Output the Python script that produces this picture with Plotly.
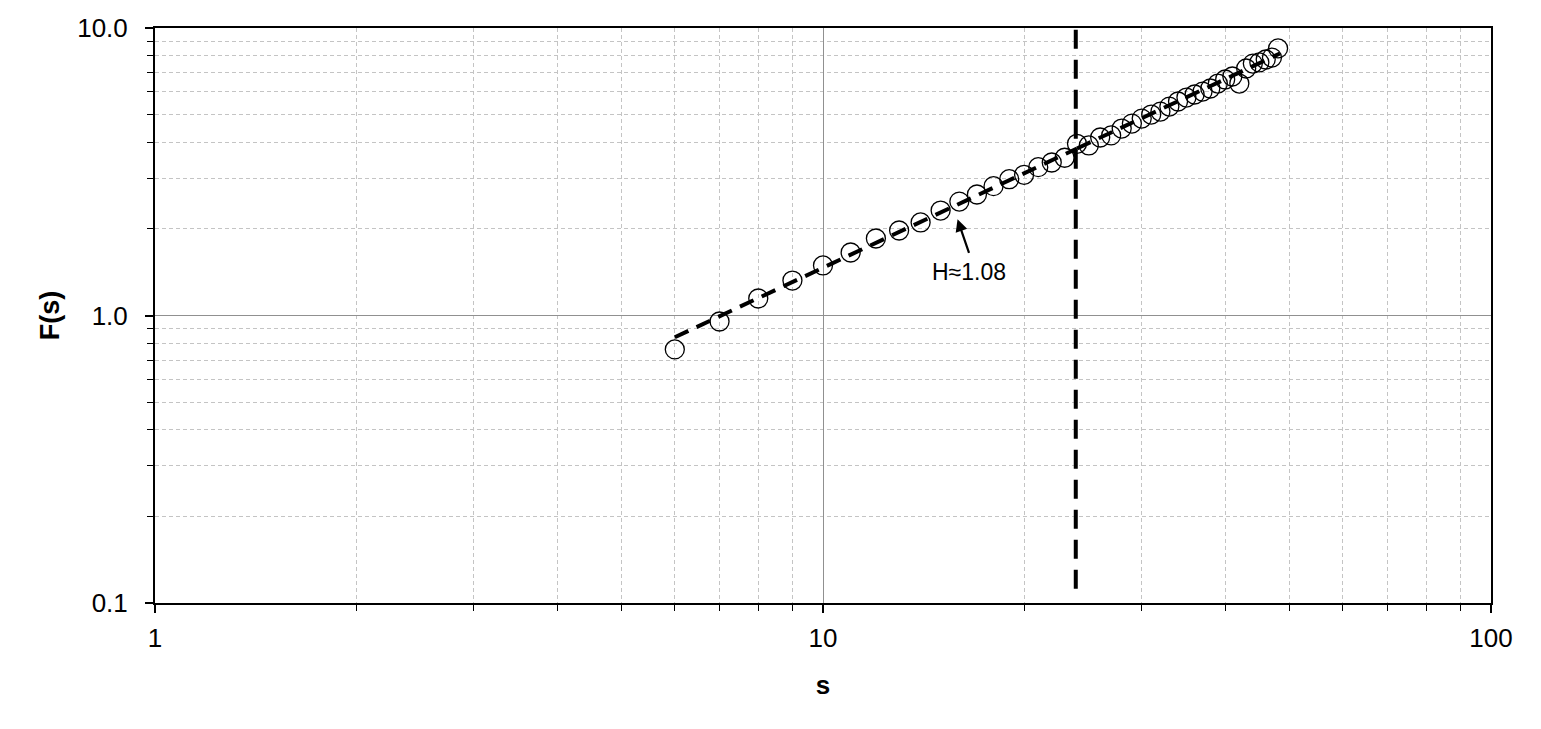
import numpy as np
import plotly.graph_objects as go

# ---- data ----
s_values = list(range(6, 49))
F_values = [0.762, 0.953, 1.146, 1.323, 1.493, 1.656, 1.853, 1.975, 2.107, 2.318,
            2.49, 2.636, 2.818, 2.979, 3.086, 3.281, 3.405, 3.537, 3.956, 3.903,
            4.16, 4.23, 4.47, 4.65, 4.84, 5.00, 5.12, 5.33, 5.55, 5.73,
            5.87, 6.01, 6.16, 6.41, 6.62, 6.78, 6.41, 7.23, 7.52, 7.59,
            7.77, 7.89, 8.49]

fit1_s = [6, 24]
fit1_F = [0.84, 3.81]
fit2_s = [24, 48.3]
fit2_F = [3.81, 8.15]

crossover_s = [23.9, 23.9]
crossover_F = [0.112, 10.0]

x_tickvals = [1, 10, 100]
x_ticktext = ["1", "10", "100"]
y_tickvals = [0.1, 1, 10]
y_ticktext = ["0.1", "1.0", "10.0"]
x_minor = [2, 3, 4, 5, 6, 7, 8, 9, 20, 30, 40, 50, 60, 70, 80, 90]
y_minor = [0.2, 0.3, 0.4, 0.5, 0.6, 0.7, 0.8, 0.9, 2, 3, 4, 5, 6, 7, 8, 9]

annot_s, annot_F, annot_text = 15.9, 2.16, "H≈1.08"

FONT = "Arial, 'Liberation Sans', sans-serif"

fig = go.Figure()
fig.add_trace(go.Scatter(x=fit1_s, y=fit1_F, mode="lines",
                         line=dict(color="black", width=4, dash="15px,9px"),
                         showlegend=False, hoverinfo="skip"))
fig.add_trace(go.Scatter(x=fit2_s, y=fit2_F, mode="lines",
                         line=dict(color="black", width=4, dash="15px,9px"),
                         showlegend=False, hoverinfo="skip"))
fig.add_trace(go.Scatter(x=crossover_s, y=crossover_F, mode="lines",
                         line=dict(color="black", width=4, dash="19px,11px"),
                         showlegend=False, hoverinfo="skip"))
fig.add_trace(go.Scatter(x=s_values, y=F_values, mode="markers",
                         marker=dict(symbol="circle-open", size=19, color="black",
                                     line=dict(width=1.3, color="black")),
                         showlegend=False))

# arrow + label
fig.add_annotation(x=np.log10(annot_s), y=np.log10(annot_F), xref="x", yref="y",
                   text="", showarrow=True, arrowhead=2, arrowsize=1.1,
                   arrowwidth=2.2, arrowcolor="black", ax=12, ay=35)
fig.add_annotation(x=np.log10(annot_s), y=np.log10(annot_F), xref="x", yref="y",
                   text=annot_text, showarrow=False, xshift=11, yshift=-53,
                   font=dict(family=FONT, size=23, color="black"))

grid_minor = dict(tickvals=x_minor, ticks="outside", ticklen=6, tickcolor="black",
                  tickwidth=1.3, showgrid=True, gridcolor="#c4c4c4",
                  griddash="4px,3px", gridwidth=1)

fig.update_xaxes(type="log", range=[0, 2], tickvals=x_tickvals, ticktext=x_ticktext,
                 ticks="outside", ticklen=8, tickwidth=1.5, tickcolor="black",
                 showline=True, linecolor="black", linewidth=2, mirror=True,
                 showgrid=True, gridcolor="#909090", gridwidth=1,
                 tickfont=dict(family=FONT, size=26, color="black"),
                 ticklabelstandoff=3, automargin=False,
                 minor=grid_minor,
                 title=dict(text="<b>s</b>", standoff=24,
                            font=dict(family=FONT, size=26, color="black")),
                 zeroline=False)
grid_minor_y = dict(grid_minor)
grid_minor_y["tickvals"] = y_minor
fig.update_yaxes(type="log", range=[-1, 1], tickvals=y_tickvals, ticktext=y_ticktext,
                 ticks="outside", ticklen=8, tickwidth=1.5, tickcolor="black",
                 showline=True, linecolor="black", linewidth=2, mirror=True,
                 showgrid=True, gridcolor="#909090", gridwidth=1,
                 tickfont=dict(family=FONT, size=26, color="black"),
                 ticklabelstandoff=12, automargin=False,
                 minor=grid_minor_y,
                 title=dict(text="<b>F(s)</b>", standoff=10,
                            font=dict(family=FONT, size=27, color="black")),
                 zeroline=False)

fig.update_layout(width=1533, height=721, autosize=False,
                  margin=dict(l=147, r=50, t=20, b=126, autoexpand=False),
                  plot_bgcolor="white", paper_bgcolor="white",
                  font=dict(family=FONT, color="black"))

fig.write_html("out.html")
